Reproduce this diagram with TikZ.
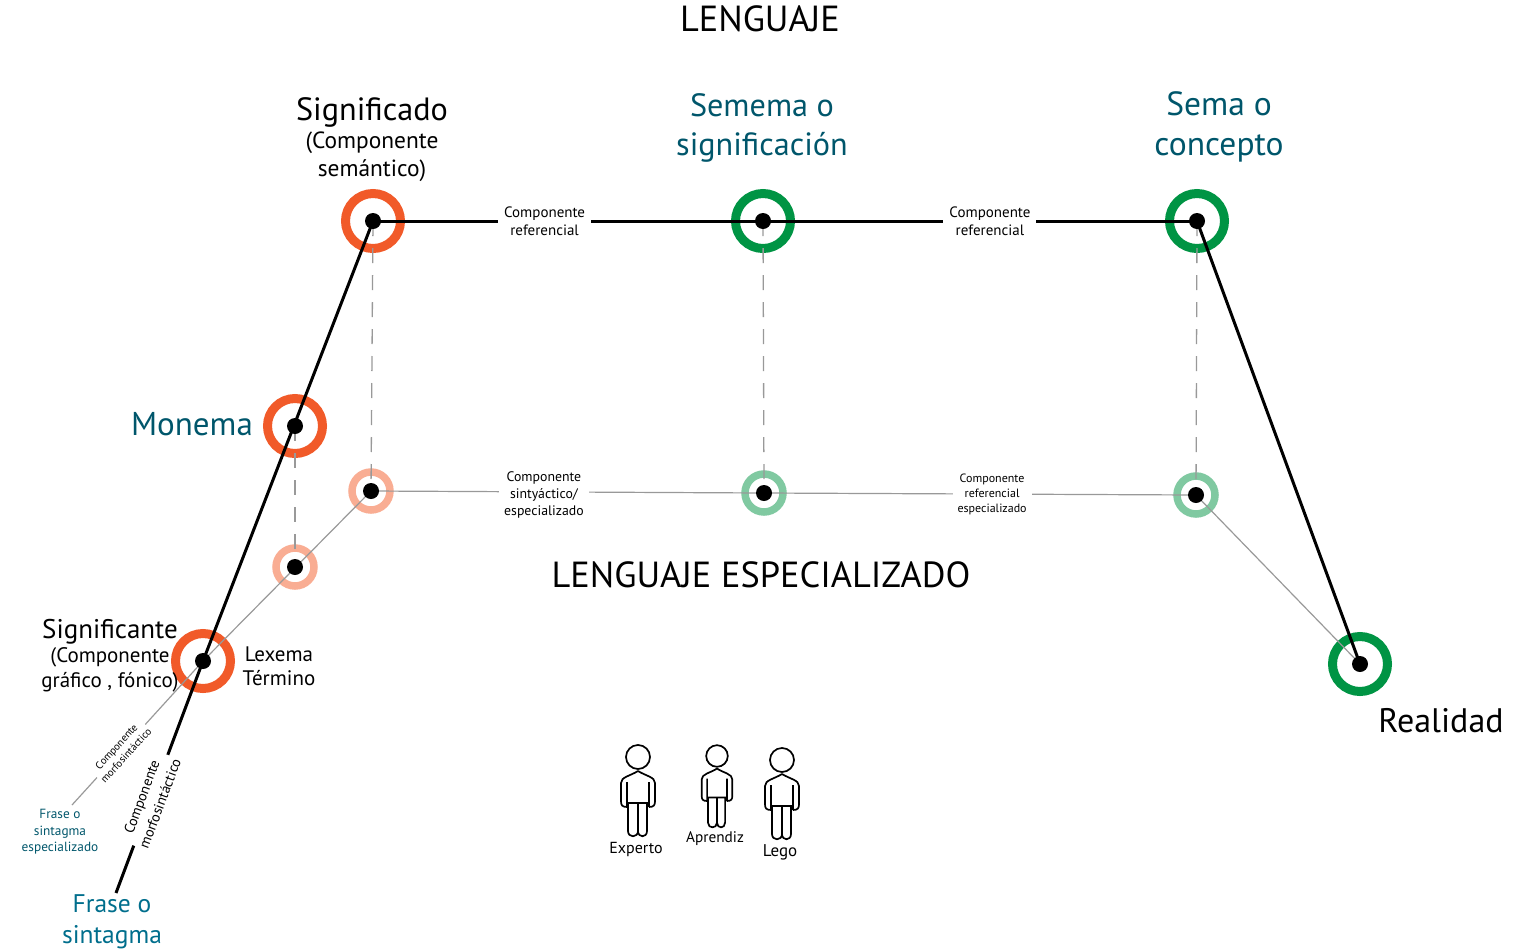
\documentclass[tikz,border=0pt]{standalone}
\usepackage{fontspec}
\setmainfont{PT Sans}
\usetikzlibrary{positioning}
\definecolor{naranja}{HTML}{F15A29}
\definecolor{naranjaclaro}{HTML}{F9AD93}
\definecolor{verde}{HTML}{009444}
\definecolor{verdeclaro}{HTML}{80C9A1}
\definecolor{azul}{HTML}{00566B}
\definecolor{azulfrase}{HTML}{006E8C}
\definecolor{linea}{HTML}{999999}
\tikzset{
  x=1pt, y=-1pt,
  ring/.style={circle, draw=#1, line width=9pt, minimum size=55pt, inner sep=0pt},
  smallring/.style={circle, draw=#1, line width=7.5pt, minimum size=38pt, inner sep=0pt},
  dot/.style={circle, fill=black, minimum size=16pt, inner sep=0pt},
  thickline/.style={line width=3pt, black},
  thinline/.style={line width=1.2pt, linea},
  dashline/.style={line width=1.3pt, linea, dash pattern=on 15pt off 12pt},
  gaplabel/.style={fill=white, align=center, font=\fontsize{#1}{17.5}\selectfont, inner sep=3pt, text=black},
  bigtext/.style={align=center, font=\fontsize{36.3}{38}\selectfont},
  headtext/.style={align=center, font=\fontsize{32.2}{39.5}\selectfont},
  subtext/.style={align=center, font=\fontsize{21}{24.5}\selectfont},
  persontext/.style={font=\fontsize{16}{17}\selectfont},
  person/.pic={
    \draw[line width=1.7pt, fill=white] (0,0) circle (12);
    \draw[line width=1.7pt, line join=round] (-11,50) .. controls (-16,50) and (-17,48) .. (-17,44) -- (-17,26)
      .. controls (-17,20) and (-8,19) .. (0,14) .. controls (8,19) and (17,20) .. (17,26) -- (17,44)
      .. controls (17,48) and (16,50) .. (11,50) (-11,25) -- (-11,50) (11,25) -- (11,50);
    \draw[line width=1.7pt, line join=round] (-10,46) -- (-10,74) .. controls (-10,81) and (0,81) .. (0,74) -- (0,46)
      (0,74) .. controls (0,81) and (9,81) .. (9,74) -- (9,46) (-11,46) -- (11,46);
  }
}
\begin{document}
\begin{tikzpicture}
  \useasboundingbox (0,0) rectangle (1526,951);
  \node[ring=naranja] (significado) at (373,221) {};
  \node[ring=verde] (semema) at (763,221) {};
  \node[ring=verde] (sema) at (1197,221) {};
  \node[ring=naranja] (monema) at (295,426) {};
  \node[ring=naranja] (significante) at (203,661) {};
  \node[ring=verde] (realidad) at (1360,664) {};
  \node[smallring=naranjaclaro] (esig) at (371,491) {};
  \node[smallring=naranjaclaro] (emon) at (295,567) {};
  \node[smallring=verdeclaro] (esem) at (764,493) {};
  \node[smallring=verdeclaro] (esma) at (1196,495) {};
  \coordinate (frase) at (116,893);
  \coordinate (fraseesp) at (72,805);

  \draw[dashline] (significado.center) -- (esig.center);
  \draw[dashline] (semema.center) -- (esem.center);
  \draw[dashline] (sema.center) -- (esma.center);
  \draw[dashline] (monema.center) -- (emon.center);

  \draw[thinline] (esig.center) -- node[gaplabel=13.8, pos=.44, yshift=-3pt, font=\fontsize{13.8}{16.7}\selectfont, inner sep=5pt] {Componente\\sintyáctico/\\especializado} (esem.center);
  \draw[thinline] (esem.center) -- node[gaplabel=12, pos=.528, font=\fontsize{12}{15}\selectfont, inner sep=5pt] {Componente\\referencial\\especializado} (esma.center);
  \draw[thinline] (esma.center) -- (realidad.center);
  \draw[thinline] (esig.center) -- (significante.center);
  \draw[thinline] (significante.center) -- node[gaplabel=10.5, sloped, pos=.625, font=\fontsize{10.5}{13}\selectfont, inner sep=1pt] {Componente\\morfosintáctico} (fraseesp);

  \draw[thickline] (significado.center) -- node[gaplabel=15, pos=.44, inner sep=6pt] {Componente\\referencial} (semema.center);
  \draw[thickline] (semema.center) -- node[gaplabel=15, pos=.523, inner sep=6pt] {Componente\\referencial} (sema.center);
  \draw[thickline] (sema.center) -- (realidad.center);
  \draw[thickline] (significado.center) -- (significante.center);
  \draw[thickline] (significante.center) -- node[gaplabel=14.3, sloped, pos=.6, font=\fontsize{14.3}{19.5}\selectfont, inner sep=1pt] {Componente\\morfosintáctico} (frase);

  \foreach \n in {significado,semema,sema,monema,significante,realidad,esig,emon,esem,esma}
    \node[dot] (d\n) at (\n) {};

  \node[bigtext] (lenguaje) at (760,19) {LENGUAJE};
  \node[bigtext] (especializado) at (761,575) {LENGUAJE ESPECIALIZADO};
  \node[headtext, text=black] (tsignificado) at (372,112) {Significado};
  \node[subtext, font=\fontsize{23.4}{28}\selectfont] (csignificado) at (372,157) {(Componente\\semántico)};
  \node[headtext, text=azul] (tsemema) at (762,128) {Semema o\\significación};
  \node[headtext, text=azul, font=\fontsize{33.5}{39.5}\selectfont] (tsema) at (1219,127) {Sema o\\concepto};
  \node[headtext, text=azul, font=\fontsize{33}{39}\selectfont] (tmonema) at (192,424) {Monema};
  \node[headtext, text=black, font=\fontsize{27}{30}\selectfont] (tsignificante) at (110,632) {Significante};
  \node[subtext] (csignificante) at (110,670) {(Componente\\gráfico , fónico)};
  \node[subtext, font=\fontsize{21}{24}\selectfont] (tlexema) at (279,666) {Lexema\\Término};
  \node[headtext, text=black, font=\fontsize{34}{39}\selectfont] (trealidad) at (1441,721) {Realidad};
  \node[subtext, text=azulfrase, font=\fontsize{25.5}{31}\selectfont] (tfrase) at (112,922) {Frase o\\sintagma};
  \node[text=azul, align=center, font=\fontsize{13.3}{16.5}\selectfont] (tfraseesp) at (60,832) {Frase o\\sintagma\\especializado};

  \pic at (638,757) {person};
  \pic[scale=.9] at (717,756) {person};
  \pic at (782,760) {person};
  \node[persontext] (experto) at (636,849) {Experto};
  \node[persontext, font=\fontsize{15.3}{17}\selectfont] (aprendiz) at (715,839) {Aprendiz};
  \node[persontext, font=\fontsize{17}{17}\selectfont] (lego) at (780,852) {Lego};
\end{tikzpicture}
\end{document}
